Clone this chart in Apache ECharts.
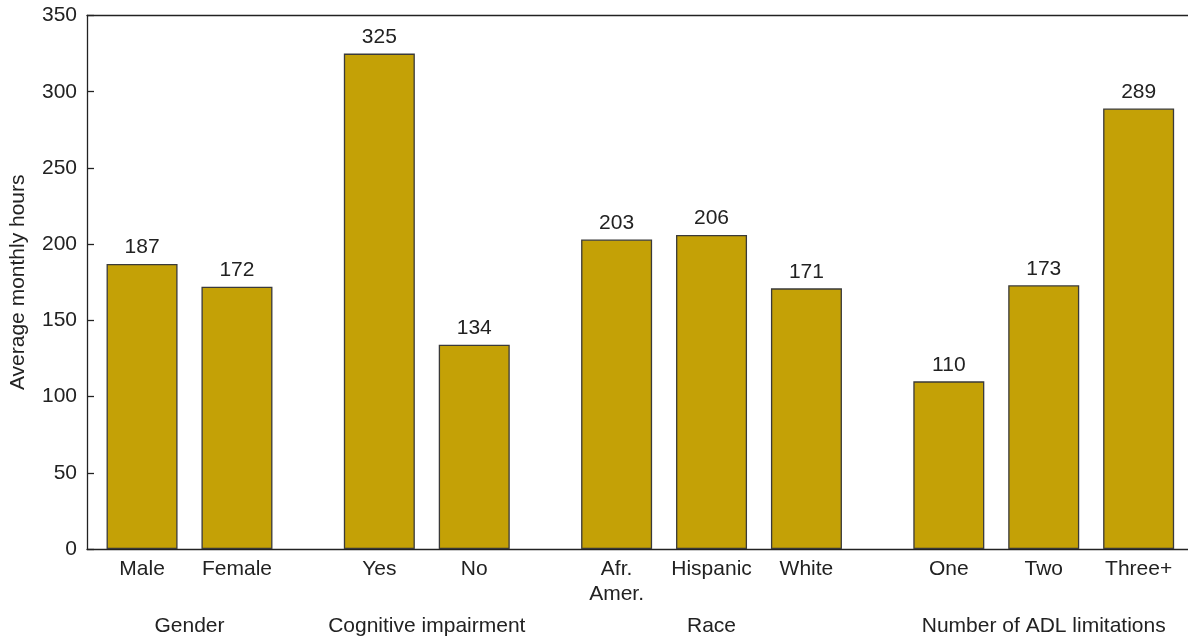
<!DOCTYPE html>
<html>
<head>
<meta charset="utf-8">
<script src="https://cdn.jsdelivr.net/npm/echarts@6/dist/echarts.min.js"></script>
<style>html,body{margin:0;padding:0;background:#fff}#c{width:1188px;height:639px}</style>
</head>
<body>
<div id="c"></div>
<script>
// Data
const groups = ["Gender", "Cognitive impairment", "Race", "Number of ADL limitations"];
const groupCategories = [
  ["Male", "Female"],
  ["Yes", "No"],
  ["Afr.\nAmer.", "Hispanic", "White"],
  ["One", "Two", "Three+"]
];
const groupValues = [
  [187, 172],
  [325, 134],
  [203, 206, 171],
  [110, 173, 289]
];
const yTicks = [0, 50, 100, 150, 200, 250, 300, 350];

// Build bar slots: one unit per bar, extra half unit between groups
const GROUP_GAP = 0.5;
const barData = [];
const catPos = [];
const catLabel = {};
const groupPos = [];
const groupLabel = {};
let slot = 0;
groupCategories.forEach((cats, gi) => {
  const start = slot;
  cats.forEach((c, ci) => {
    barData.push([slot, groupValues[gi][ci]]);
    catPos.push(slot);
    catLabel[slot] = c;
    slot += 1;
  });
  const center = (start + slot - 1) / 2;
  groupPos.push(center);
  groupLabel[center] = groups[gi];
  slot += GROUP_GAP;
});
const lastPos = catPos[catPos.length - 1];

const font = "'Liberation Sans', Arial, Helvetica, sans-serif";
const textColor = '#222';
const chart = echarts.init(document.getElementById('c'), null, {renderer: 'canvas'});
const xMin = -0.58, xMax = lastPos + 0.52;

chart.setOption({
  animation: false,
  backgroundColor: '#fff',
  grid: {left: 86, right: 0, top: 15.5, bottom: 90, containLabel: false},
  xAxis: [
    {
      type: 'value', min: xMin, max: xMax, position: 'bottom',
      axisLine: {show: true, onZero: false, lineStyle: {color: '#222', width: 1.3}},
      axisTick: {show: false},
      splitLine: {show: false},
      axisLabel: {
        customValues: catPos,
        formatter: v => catLabel[v] || '',
        color: textColor, fontFamily: font, fontSize: 21, margin: 8, lineHeight: 25,
        verticalAlign: 'top'
      }
    },
    {
      type: 'value', min: xMin, max: xMax, position: 'bottom', offset: 67,
      axisLine: {show: false},
      axisTick: {show: false},
      splitLine: {show: false},
      axisLabel: {
        customValues: groupPos,
        formatter: v => groupLabel[v] || '',
        color: textColor, fontFamily: font, fontSize: 21, margin: 0
      }
    },
    {
      type: 'value', min: xMin, max: xMax, position: 'top',
      axisLine: {show: true, onZero: false, lineStyle: {color: '#222', width: 1.3}},
      axisTick: {show: false}, axisLabel: {show: false}, splitLine: {show: false}
    }
  ],
  yAxis: {
    type: 'value', min: 0, max: 350, interval: 50, position: 'left',
    name: 'Average monthly hours', nameLocation: 'middle', nameGap: 58, nameRotate: 90,
    nameTextStyle: {color: textColor, fontFamily: font, fontSize: 21},
    axisLine: {show: true, onZero: false, lineStyle: {color: '#222', width: 1.3}},
    axisTick: {show: true, inside: true, length: 7, lineStyle: {color: '#222', width: 1.3}},
    splitLine: {show: false},
    axisLabel: {
      customValues: yTicks,
      color: textColor, fontFamily: font, fontSize: 21, margin: 10
    }
  },
  series: [{
    type: 'bar',
    xAxisIndex: 0,
    data: barData,
    barWidth: 71,
    itemStyle: {color: '#C4A106', borderColor: '#3a3a3a', borderWidth: 1.3},
    label: {
      show: true, position: 'top', distance: 6,
      color: textColor, fontFamily: font, fontSize: 21,
      formatter: p => p.value[1]
    }
  }]
});
</script>
</body>
</html>
